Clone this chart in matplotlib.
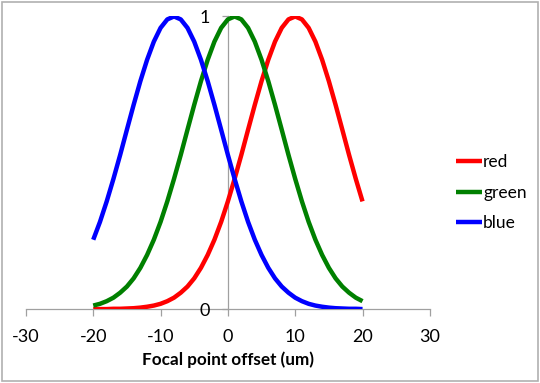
import matplotlib
matplotlib.use("Agg")
import matplotlib.pyplot as plt
from matplotlib.patches import Rectangle

plt.rcParams['font.family'] = ['Lato', 'DejaVu Sans']

offsets = list(range(-20, 21))
red = [0.000, 0.000, 0.000, 0.001, 0.001, 0.002, 0.003, 0.005, 0.008, 0.012,
       0.018, 0.027, 0.039, 0.056, 0.077, 0.105, 0.141, 0.185, 0.237, 0.298,
       0.368, 0.445, 0.527, 0.613, 0.698, 0.779, 0.852, 0.914, 0.961, 0.990,
       1.000, 0.990, 0.961, 0.914, 0.852, 0.779, 0.698, 0.613, 0.527, 0.445,
       0.368]
green = [0.012, 0.018, 0.027, 0.039, 0.056, 0.077, 0.105, 0.141, 0.185, 0.237,
         0.298, 0.368, 0.445, 0.527, 0.613, 0.698, 0.779, 0.852, 0.914, 0.961,
         0.990, 1.000, 0.990, 0.961, 0.914, 0.852, 0.779, 0.698, 0.613, 0.527,
         0.445, 0.368, 0.298, 0.237, 0.185, 0.141, 0.105, 0.077, 0.056, 0.039,
         0.027]
blue = [0.237, 0.298, 0.368, 0.445, 0.527, 0.613, 0.698, 0.779, 0.852, 0.914,
        0.961, 0.990, 1.000, 0.990, 0.961, 0.914, 0.852, 0.779, 0.698, 0.613,
        0.527, 0.445, 0.368, 0.298, 0.237, 0.185, 0.141, 0.105, 0.077, 0.056,
        0.039, 0.027, 0.018, 0.012, 0.008, 0.005, 0.003, 0.002, 0.001, 0.001,
        0.000]
series_names = ["red", "green", "blue"]
series_colors = ["#FF0000", "#008000", "#0000FF"]
x_ticks = [-30, -20, -10, 0, 10, 20, 30]
y_ticks = [0, 1]
x_label = "Focal point offset (um)"

fig = plt.figure(figsize=(5.4, 3.83), dpi=100)
ax = fig.add_axes([0.048, 0.193, 0.748, 0.764])

for vals, name, col in zip([red, green, blue], series_names, series_colors):
    ax.plot(offsets, vals, color=col, lw=3.2, label=name,
            solid_capstyle='butt', solid_joinstyle='round')

ax.set_xlim(-30, 30)
ax.set_ylim(0, 1)
ax.set_xticks(x_ticks)
ax.set_yticks(y_ticks)
ax.set_xticklabels([str(t) for t in x_ticks])
ax.set_yticklabels([str(t) for t in y_ticks])

axis_col = '#a0a0a0'
for s in ['top', 'right']:
    ax.spines[s].set_visible(False)
ax.spines['left'].set_position(('data', 0))
ax.spines['left'].set_color(axis_col)
ax.spines['bottom'].set_color(axis_col)
ax.spines['left'].set_linewidth(0.9)
ax.spines['bottom'].set_linewidth(0.9)
ax.spines['left'].set_zorder(0)
ax.spines['bottom'].set_zorder(0)
ax.tick_params(axis='x', direction='out', length=5, width=0.9, color=axis_col,
               labelsize=13, pad=9, labelcolor='black')
ax.tick_params(axis='y', direction='out', length=4, width=0.9, color=axis_col,
               labelsize=13, pad=9, labelcolor='black')

ax.set_xlabel(x_label, fontsize=12.3, fontweight='bold', labelpad=5)

ax.legend(loc='center left', bbox_to_anchor=(0.845, 0.497), bbox_transform=fig.transFigure,
          frameon=False, fontsize=12.5, handlelength=1.5, handletextpad=0.05,
          labelspacing=0.85, borderpad=0, borderaxespad=0)

fig.patches.append(Rectangle((0.003, 0.004), 0.993, 0.991, transform=fig.transFigure,
                             fill=False, edgecolor='#b0b0b0', lw=1.2))

fig.savefig("out.png", dpi=100)
